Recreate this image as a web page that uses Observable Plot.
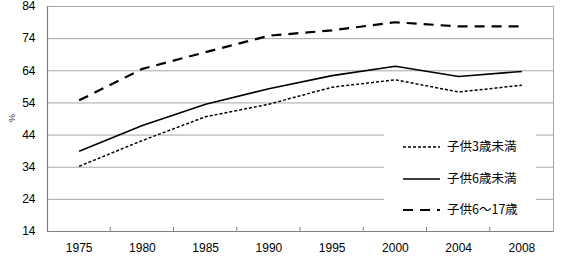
<!DOCTYPE html>
<html>
<head>
<meta charset="utf-8">
<script src="https://cdn.jsdelivr.net/npm/d3@7"></script>
<script src="https://cdn.jsdelivr.net/npm/@observablehq/plot@0.6"></script>
<style>
  html, body { margin: 0; padding: 0; background: #fff; }
  svg { display: block; }
</style>
</head>
<body>
<div id="chart"></div>
<script>
const years = ["1975", "1980", "1985", "1990", "1995", "2000", "2004", "2008"];
const under3 = [34.3, 42.3, 49.7, 53.6, 58.9, 61.2, 57.4, 59.5];
const under6 = [39.0, 47.0, 53.6, 58.4, 62.5, 65.4, 62.2, 63.8];
const age6to17 = [54.8, 64.6, 69.8, 74.9, 76.6, 79.1, 77.8, 77.8];
const seriesNames = ["子供3歳未満", "子供6歳未満", "子供6～17歳"];
const yTicks = [14, 24, 34, 44, 54, 64, 74, 84];

const styles = {
  "子供3歳未満": {dash: "3,2", width: 1.5},
  "子供6歳未満": {dash: null, width: 1.6},
  "子供6～17歳": {dash: "10,7", width: 2.2}
};

const table = [];
[under3, under6, age6to17].forEach((vals, s) => {
  vals.forEach((v, i) => table.push({series: seriesNames[s], idx: i + 0.5, year: years[i], value: v}));
});

const font = "'Liberation Sans', Arial, sans-serif";
const W = 576, H = 269;
const ml = 47, mr = 23, mt = 6, mb = 38;

const plot = Plot.plot({
  width: W,
  height: H,
  marginLeft: ml,
  marginRight: mr,
  marginTop: mt,
  marginBottom: mb,
  style: {fontFamily: font, fontSize: "12px", color: "#000", background: "#fff"},
  x: {type: "linear", domain: [0, years.length]},
  y: {domain: [14, 84]},
  marks: [
    Plot.gridY(yTicks.slice(1, -1), {stroke: "#a6a6a6", strokeOpacity: 1, strokeWidth: 1}),
    Plot.frame({stroke: "#a6a6a6"}),
    ...seriesNames.map(name => Plot.line(table.filter(d => d.series === name), {
      x: "idx", y: "value", stroke: "#000",
      strokeWidth: styles[name].width,
      strokeDasharray: styles[name].dash,
      strokeLinecap: "butt", strokeLinejoin: "round"
    })),
    Plot.ruleY([14], {stroke: "#808080", strokeWidth: 1.2}),
    Plot.ruleX([0], {stroke: "#808080", strokeWidth: 1.2}),
    Plot.axisY({ticks: yTicks, tickSize: 0, tickPadding: 12, fontSize: 12, label: null}),
    Plot.axisX({ticks: years.map((_, i) => i + 0.5), tickFormat: (d) => years[Math.floor(d)], tickSize: 0, tickPadding: 12, fontSize: 12, label: null})
  ]
});

document.getElementById("chart").appendChild(plot);

const svg = d3.select(plot);
const xs = plot.scale("x");
const ys = plot.scale("y");
const y0 = ys.apply(14);
// Small upward tick marks at category boundaries on the x axis
d3.range(1, years.length).forEach(i => {
  svg.append("line").attr("x1", xs.apply(i)).attr("x2", xs.apply(i))
    .attr("y1", y0).attr("y2", y0 - 4).attr("stroke", "#808080");
});

// "%" unit label
svg.append("text").attr("transform", `translate(9,118) rotate(90)`)
  .attr("text-anchor", "middle").attr("font-size", 9).attr("font-family", font)
  .attr("fill", "#333").text("%");

// Legend box inside the plot area
const lg = svg.append("g").attr("text-anchor", "start");
lg.append("rect").attr("x", 384).attr("y", 118).attr("width", 152).attr("height", 108).attr("fill", "#fff");
const rowsY = [147, 179, 210];
seriesNames.forEach((name, i) => {
  lg.append("line").attr("x1", 403).attr("x2", 440).attr("y1", rowsY[i]).attr("y2", rowsY[i])
    .attr("stroke", "#000").attr("stroke-width", styles[name].width)
    .attr("stroke-dasharray", styles[name].dash);
  lg.append("text").attr("x", 447).attr("y", rowsY[i]).attr("dy", "0.35em")
    .attr("text-anchor", "start")
    .attr("font-size", 12.5).attr("font-family", "'Noto Sans CJK JP', sans-serif")
    .attr("fill", "#000").text(name);
});
</script>
</body>
</html>
